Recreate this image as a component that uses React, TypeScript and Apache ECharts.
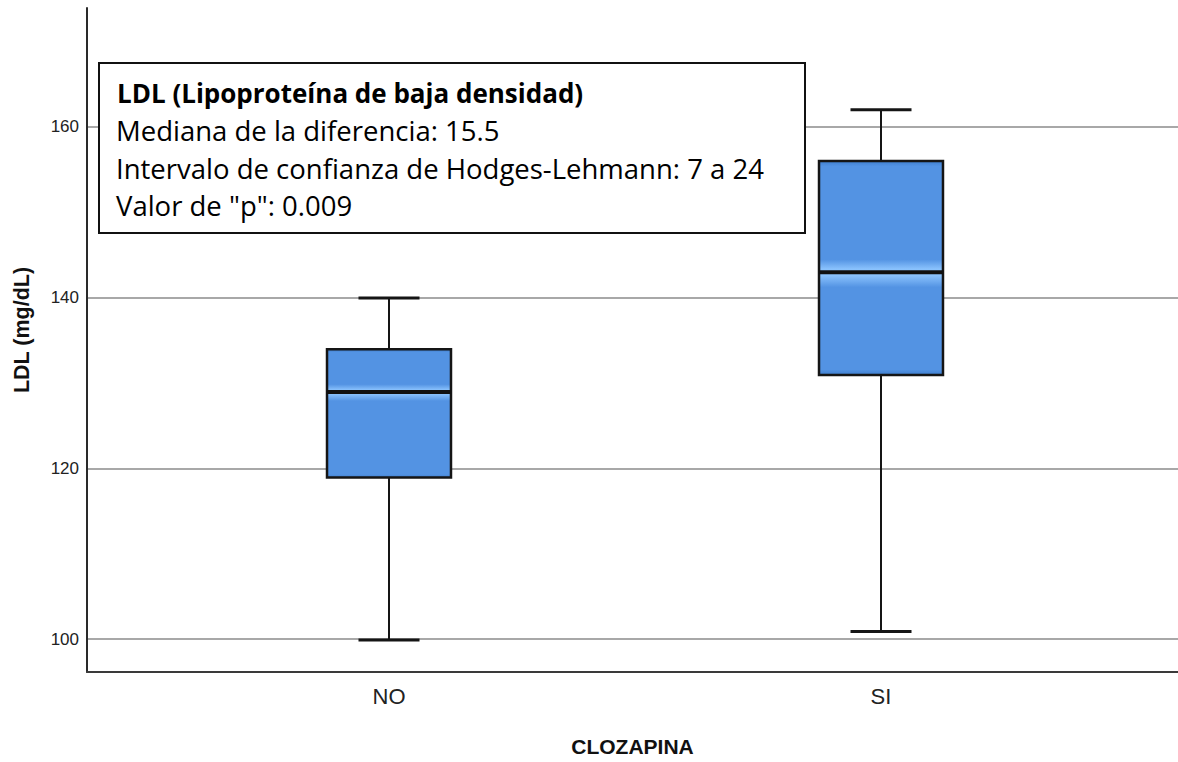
import React, { useEffect, useRef } from "react";
import * as echarts from "echarts";

// Groups on the category axis
const categories = ["NO", "SI"];

// Five-number summaries of LDL (mg/dL) per group
const minValues = [100, 101];
const q1Values = [119, 131];
const medianValues = [129, 143];
const q3Values = [134, 156];
const maxValues = [140, 162];

// Value range of the LDL axis
const yMin = 96.14;
const yMax = 173.9;

// Annotation box contents
const noteTitle = "LDL (Lipoproteína de baja densidad)";
const noteLines = [
  "Mediana de la diferencia: 15.5",
  "Intervalo de confianza de Hodges-Lehmann: 7 a 24",
  'Valor de "p": 0.009',
];

const AXIS_FONT = "'Liberation Sans', Arial, sans-serif";
const NOTE_FONT = "'Open Sans', 'Noto Sans', sans-serif";

export default function App() {
  const ref = useRef<HTMLDivElement>(null);

  useEffect(() => {
    if (!ref.current) return;
    const chart = echarts.init(ref.current, undefined, { renderer: "svg" });

    const boxData = categories.map((_, i) => [
      i,
      minValues[i],
      q1Values[i],
      medianValues[i],
      q3Values[i],
      maxValues[i],
    ]);

    const base = "#5393e3";
    const edge = "#3f7fcf";
    const glow = "#8ac2fd";

    const renderBox = (params: any, api: any) => {
      const c = api.value(0);
      const pLo = api.coord([c, api.value(1)]);
      const pQ1 = api.coord([c, api.value(2)]);
      const pMed = api.coord([c, api.value(3)]);
      const pQ3 = api.coord([c, api.value(4)]);
      const pHi = api.coord([c, api.value(5)]);
      const band = api.size([1, 0])[0];
      const boxW = band * 0.252;
      const capW = band * 0.124;
      const cx = pHi[0];
      const boxH = pQ1[1] - pQ3[1];
      const t = (pMed[1] - pQ3[1]) / boxH;
      const fill = new echarts.graphic.LinearGradient(0, 0, 0, 1, [
        { offset: 0, color: edge },
        { offset: 0.025, color: base },
        { offset: t - 0.06, color: base },
        { offset: t - 0.015, color: glow },
        { offset: t + 0.015, color: glow },
        { offset: t + 0.07, color: base },
        { offset: 0.975, color: base },
        { offset: 1, color: edge },
      ]);
      const stroke = { stroke: "#151515", lineWidth: 2 };
      return {
        type: "group",
        children: [
          {
            type: "line",
            shape: { x1: cx, y1: pHi[1], x2: cx, y2: pQ3[1] },
            style: stroke,
          },
          {
            type: "line",
            shape: { x1: cx, y1: pQ1[1], x2: cx, y2: pLo[1] },
            style: stroke,
          },
          {
            type: "line",
            shape: { x1: cx - capW / 2, y1: pHi[1], x2: cx + capW / 2, y2: pHi[1] },
            style: { stroke: "#151515", lineWidth: 3 },
          },
          {
            type: "line",
            shape: { x1: cx - capW / 2, y1: pLo[1], x2: cx + capW / 2, y2: pLo[1] },
            style: { stroke: "#151515", lineWidth: 3 },
          },
          {
            type: "rect",
            shape: { x: cx - boxW / 2, y: pQ3[1], width: boxW, height: boxH },
            style: { fill, stroke: "#151515", lineWidth: 2.5 },
          },
          {
            type: "line",
            shape: { x1: cx - boxW / 2, y1: pMed[1], x2: cx + boxW / 2, y2: pMed[1] },
            style: { stroke: "#111", lineWidth: 4 },
          },
        ],
      };
    };

    const lineGap = 37.6;
    const noteTop = 93;

    chart.setOption({
      animation: false,
      backgroundColor: "#ffffff",
      grid: [
        { left: 87, right: 0, top: 8, bottom: 89 },
        { left: 143, right: 51, top: 8, bottom: 89 },
      ],
      xAxis: [
        {
          gridIndex: 0,
          type: "value",
          min: 0,
          max: 1,
          axisLine: { show: true, onZero: false, lineStyle: { color: "#3a3a3a", width: 2 } },
          axisTick: { show: false },
          axisLabel: { show: false },
          splitLine: { show: false },
          name: "CLOZAPINA",
          nameLocation: "middle",
          nameGap: 64,
          nameTextStyle: {
            fontFamily: AXIS_FONT,
            fontWeight: "bold",
            fontSize: 21,
            color: "#111",
          },
        },
        {
          gridIndex: 1,
          type: "category",
          data: categories,
          axisLine: { show: false },
          axisTick: { show: false },
          axisLabel: {
            fontFamily: AXIS_FONT,
            fontSize: 22,
            color: "#222",
            margin: 12,
          },
          splitLine: { show: false },
        },
      ],
      yAxis: [
        {
          gridIndex: 0,
          type: "value",
          min: yMin,
          max: yMax,
          splitNumber: 4,
          axisLine: { show: true, onZero: false, lineStyle: { color: "#2a2a2a", width: 2 } },
          axisTick: { show: false },
          axisLabel: {
            fontFamily: AXIS_FONT,
            fontSize: 17,
            color: "#222",
            margin: 8,
            showMinLabel: false,
            showMaxLabel: false,
          },
          splitLine: {
            show: true,
            showMinLine: false,
            showMaxLine: false,
            lineStyle: { color: "#a8a8a8", width: 2 },
          },
          name: "LDL (mg/dL)",
          nameLocation: "middle",
          nameRotate: 90,
          nameGap: 54,
          nameTextStyle: {
            fontFamily: AXIS_FONT,
            fontWeight: "bold",
            fontSize: 21.5,
            color: "#111",
            padding: [0, 0, 0, 20],
          },
        },
        {
          gridIndex: 1,
          type: "value",
          min: yMin,
          max: yMax,
          show: false,
        },
      ],
      series: [
        {
          type: "custom",
          xAxisIndex: 1,
          yAxisIndex: 1,
          encode: { x: 0, y: [1, 2, 3, 4, 5] },
          data: boxData,
          renderItem: renderBox,
          z: 5,
        },
      ],
      graphic: [
        {
          type: "rect",
          z: 100,
          shape: { x: 99, y: 63, width: 706, height: 170 },
          style: { fill: "#ffffff", stroke: "#111", lineWidth: 2 },
        },
        {
          type: "text",
          z: 101,
          x: 117,
          y: noteTop,
          style: {
            text: noteTitle,
            fontFamily: NOTE_FONT,
            fontWeight: "bold",
            fontSize: 26,
            fill: "#000",
            verticalAlign: "middle",
          },
        },
        ...noteLines.map((line, i) => ({
          type: "text",
          z: 101,
          x: 116,
          y: noteTop + lineGap * (i + 1),
          style: {
            text: line,
            fontFamily: NOTE_FONT,
            fontSize: 27.5,
            fill: "#000",
            verticalAlign: "middle",
          },
        })),
      ],
    });

    return () => chart.dispose();
  }, []);

  return (
    <div
      ref={ref}
      style={{ position: "fixed", left: 0, top: 0, width: 1178, height: 762, background: "#fff" }}
    />
  );
}
